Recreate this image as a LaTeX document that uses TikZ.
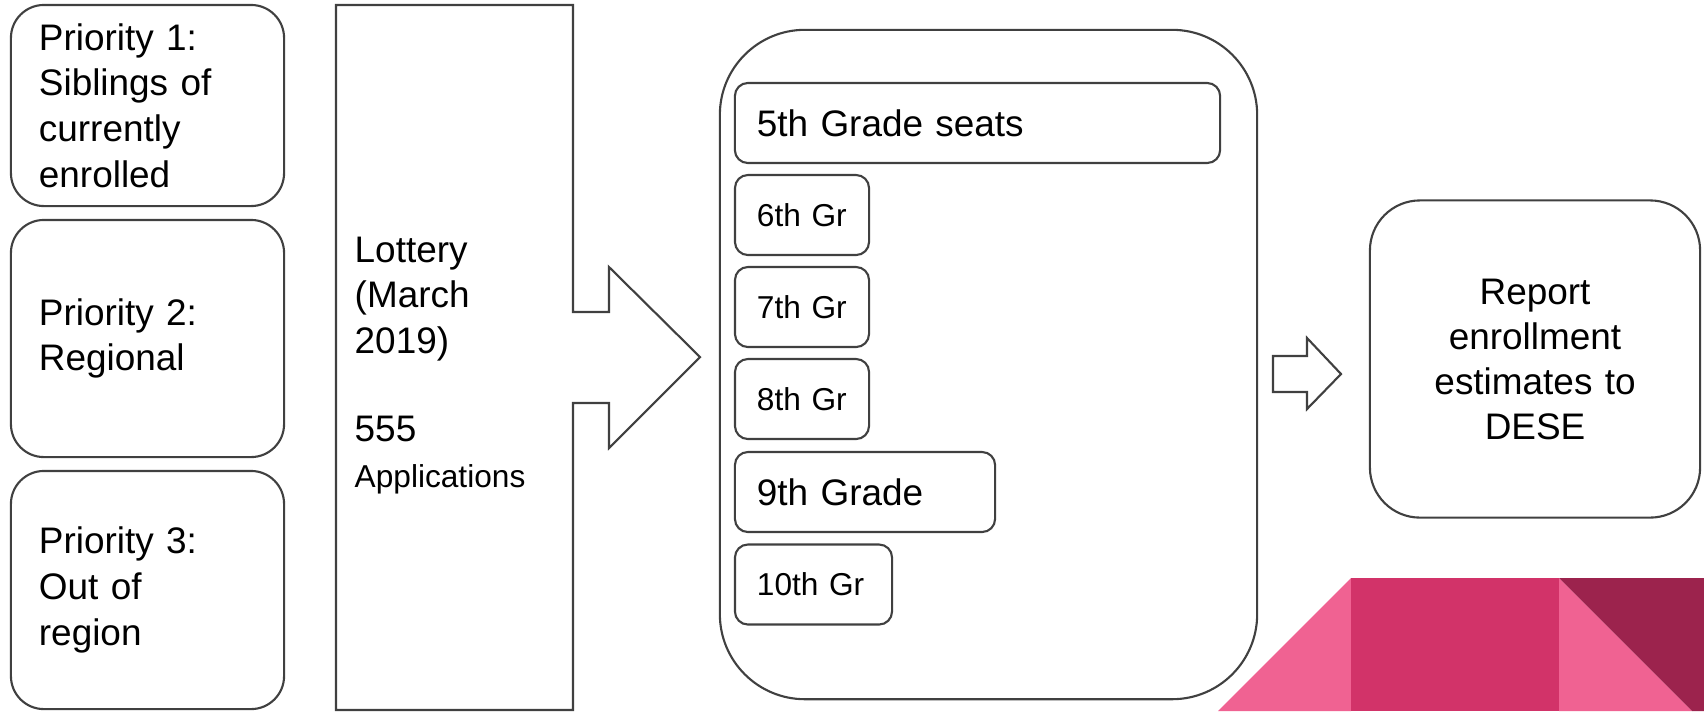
\documentclass[tikz,border=0pt]{standalone}
\usepackage{fontspec}
\setmainfont{Liberation Sans}
\definecolor{pinkLight}{HTML}{F06292}
\definecolor{pinkMid}{HTML}{D23369}
\definecolor{pinkDark}{HTML}{9C234D}
\definecolor{lineGray}{HTML}{404040}
\tikzset{
	outline/.style={draw=lineGray, line width=0.6pt},
	priorityBox/.style={outline, rectangle, rounded corners=0.33cm, text width=2.17cm, 
	inner xsep=0.28cm, align=left, font=\fontsize{10.5}{13}\selectfont},
	gradeBox/.style={outline, rectangle, rounded corners=0.13cm, minimum height=0.8cm, 
	inner xsep=0.22cm, align=left},
}
\begin{document}
\begin{tikzpicture}[x=0.01cm, y=-0.01cm]
	
	\useasboundingbox (0,0) rectangle (1704,711);
	
	%Priority blocks
	\node (priorityOne) at (147.5,105.5) [priorityBox, minimum height=2.01cm]{Priority 1:\\ 
	Siblings of\\ currently\\ enrolled};
	\node (priorityTwo) at (147.5,338.5) [priorityBox, minimum height=2.37cm]{Priority 2:\\ 
	Regional};
	\node (priorityThree) at (147.5,590) [priorityBox, minimum height=2.38cm]{Priority 3:\\ 
	Out of\\ region};
	
	%Lottery block with its arrow
	\draw[outline] (336,5) -- (573,5) -- (573,312) -- (609,312) -- (609,267) -- (700,357) 
	-- (609,448) -- (609,403) -- (573,403) -- (573,710) -- (336,710) -- cycle;
	\node (lottery) at (354,236) [anchor=north west, inner sep=0pt, align=left, 
	font=\fontsize{10.5}{13}\selectfont]{Lottery\\ (March\\ 2019)\\[12pt] 555\\[0pt] 
	{\fontsize{9}{11}\selectfont Applications}};
	
	%Seats block
	\node (seats) at (988.5,364.5) [outline, rectangle, rounded corners=0.85cm, minimum 
	width=5.37cm, minimum height=6.69cm]{};
	\node (gradeFive) at (977.5,123) [gradeBox, text width=4.41cm, 
	font=\fontsize{10.5}{12.6}\selectfont]{5th Grade seats};
	\node (gradeSix) at (802,215) [gradeBox, text width=0.9cm, 
	font=\fontsize{9}{11}\selectfont]{6th Gr};
	\node (gradeSeven) at (802,307) [gradeBox, text width=0.9cm, 
	font=\fontsize{9}{11}\selectfont]{7th Gr};
	\node (gradeEight) at (802,399) [gradeBox, text width=0.9cm, 
	font=\fontsize{9}{11}\selectfont]{8th Gr};
	\node (gradeNine) at (865,492) [gradeBox, text width=2.16cm, 
	font=\fontsize{10.5}{12.6}\selectfont]{9th Grade};
	\node (gradeTen) at (813.5,584.5) [gradeBox, text width=1.13cm, 
	font=\fontsize{9}{11}\selectfont]{10th Gr};
	
	%Report block
	\node (report) at (1535,359) [outline, rectangle, rounded corners=0.5cm, minimum 
	width=3.3cm, minimum height=3.17cm, text width=2.9cm, align=center, 
	font=\fontsize{10.5}{12.8}\selectfont]{Report\\ enrollment\\ estimates to\\ DESE};
	
	%Arrow towards the report
	\draw[outline] (1273,356) -- (1307,356) -- (1307,338) -- (1341,374) -- (1307,409) -- 
	(1307,392) -- (1273,392) -- cycle;
	
	%Corner decoration
	\fill[pinkLight] (1218,711) -- (1351,578) -- (1351,711) -- cycle;
	\fill[pinkMid] (1351,578) rectangle (1559,711);
	\fill[pinkLight] (1559,578) -- (1692,711) -- (1559,711) -- cycle;
	\fill[pinkDark] (1559,578) -- (1704,578) -- (1704,711) -- (1692,711) -- cycle;
	
\end{tikzpicture}
\end{document}
